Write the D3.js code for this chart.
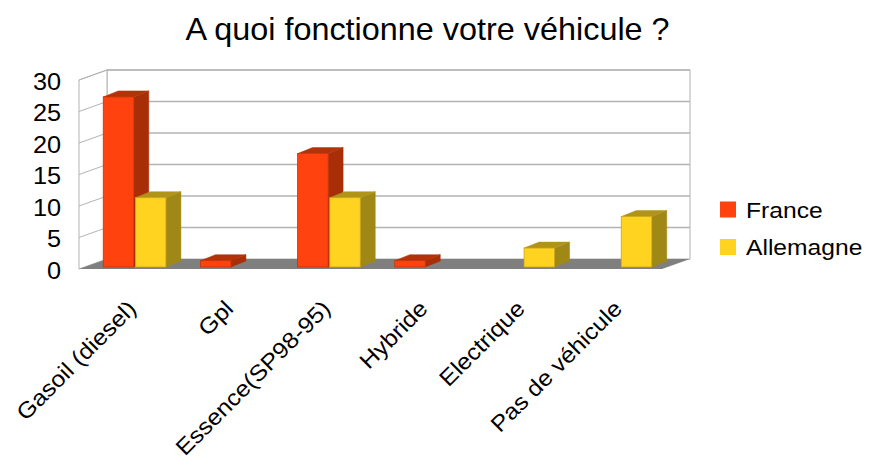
<!DOCTYPE html>
<html>
<head>
<meta charset="utf-8">
<script src="https://cdn.jsdelivr.net/npm/d3@7"></script>
<style>
  body { margin: 0; background: #fff; }
  svg { font-family: "Liberation Sans", Arial, sans-serif; }
</style>
</head>
<body>
<svg id="chart"></svg>
<script>
const categories = ["Gasoil (diesel)", "Gpl", "Essence(SP98-95)", "Hybride", "Electrique", "Pas de véhicule"];
const seriesNames = ["France", "Allemagne"];
const france = [27, 1, 18, 1, 0, 0];
const allemagne = [11, 0, 11, 0, 3, 8];
const yTicks = [0, 5, 10, 15, 20, 25, 30];

const width = 869;
const height = 465;

// 3d offsets
const wallDx = 28, wallDy = -10;   // depth of the floor / side wall
const barDx = 15, barDy = -6;      // depth of each bar
const barShift = 7;                // bars sit a bit behind the front edge
const stretch = 1.1;               // text in the original is a little wide

const colors = { France: "#ff420e", Allemagne: "#ffd320" };
const sideColors = { France: "#a82e08", Allemagne: "#a08816" };
const topColors = { France: "#b3320a", Allemagne: "#b09418" };
const edgeColors = { France: "#c73208", Allemagne: "#c9a614" };

const svg = d3.select("#chart").attr("width", width).attr("height", height);

const frontLeft = 79, frontRight = 662;

// front plane scale
const yFront = d3.scaleLinear().domain([0, 30]).range([269, 80]);
// bar scale (slightly behind the front)
const yBar = d3.scaleLinear().domain([0, 30]).range([267, 78]);

const x0 = d3.scaleBand()
  .domain(categories)
  .range([frontLeft + barShift, frontRight + barShift])
  .paddingInner(0.355)
  .paddingOuter(0.1775);

const x1 = d3.scaleBand()
  .domain(seriesNames)
  .range([0, x0.bandwidth()])
  .paddingInner(0.05);

// title
svg.append("text")
  .attr("transform", "translate(427.5,40) scale(1.045,1)")
  .attr("text-anchor", "middle")
  .style("font-size", "31px")
  .attr("fill", "#000")
  .text("A quoi fonctionne votre véhicule ?");

const walls = svg.append("g");
const gridColor = "#b3b3b3";

// back wall
walls.append("rect")
  .attr("x", frontLeft + wallDx)
  .attr("y", yFront(30) + wallDy)
  .attr("width", frontRight - frontLeft)
  .attr("height", yFront(0) - yFront(30))
  .attr("fill", "#fff")
  .attr("stroke", gridColor)
  .attr("stroke-width", 1);

// left side wall
walls.append("path")
  .attr("d", d3.line()([
    [frontLeft, yFront(0)], [frontLeft, yFront(30)],
    [frontLeft + wallDx, yFront(30) + wallDy], [frontLeft + wallDx, yFront(0) + wallDy]
  ]) + "Z")
  .attr("fill", "#fff")
  .attr("stroke", gridColor)
  .attr("stroke-width", 1);

// grid lines
yTicks.slice(1).forEach(v => {
  walls.append("line")
    .attr("x1", frontLeft + wallDx).attr("x2", frontRight + wallDx)
    .attr("y1", yFront(v) + wallDy).attr("y2", yFront(v) + wallDy)
    .attr("stroke", gridColor).attr("stroke-width", 1.5);
  walls.append("line")
    .attr("x1", frontLeft).attr("x2", frontLeft + wallDx)
    .attr("y1", yFront(v)).attr("y2", yFront(v) + wallDy)
    .attr("stroke", gridColor).attr("stroke-width", 1);
});

// floor
walls.append("path")
  .attr("d", d3.line()([
    [frontLeft, yFront(0)], [frontRight, yFront(0)],
    [frontRight + wallDx, yFront(0) + wallDy], [frontLeft + wallDx, yFront(0) + wallDy]
  ]) + "Z")
  .attr("fill", "#7f7f7f");

// y axis labels
svg.append("g")
  .selectAll("text")
  .data(yTicks)
  .join("text")
    .attr("transform", d => `translate(61,${yFront(d)}) scale(${stretch},1)`)
    .attr("dy", "0.42em")
    .attr("text-anchor", "end")
    .style("font-size", "23px")
    .text(d => d);

// bars
const rows = [];
categories.forEach((c, i) => {
  rows.push({ cat: c, series: "France", value: france[i] });
  rows.push({ cat: c, series: "Allemagne", value: allemagne[i] });
});

const bars = svg.append("g")
  .selectAll("g")
  .data(rows.filter(d => d.value > 0))
  .join("g");

bars.each(function(d) {
  const g = d3.select(this);
  const xl = x0(d.cat) + x1(d.series);
  const xr = xl + x1.bandwidth();
  const yt = yBar(d.value);
  const yb = yBar(0);
  const line = d3.line();
  // side
  g.append("path")
    .attr("d", line([[xr, yb], [xr, yt], [xr + barDx, yt + barDy], [xr + barDx, yb + barDy]]) + "Z")
    .attr("fill", sideColors[d.series])
    .attr("stroke", sideColors[d.series]).attr("stroke-width", 0.5);
  // top
  g.append("path")
    .attr("d", line([[xl, yt], [xr, yt], [xr + barDx, yt + barDy], [xl + barDx, yt + barDy]]) + "Z")
    .attr("fill", topColors[d.series])
    .attr("stroke", topColors[d.series]).attr("stroke-width", 0.5);
  // front
  g.append("rect")
    .attr("x", xl).attr("y", yt)
    .attr("width", xr - xl).attr("height", yb - yt)
    .attr("fill", colors[d.series])
    .attr("stroke", edgeColors[d.series]).attr("stroke-width", 0.8);
});

// category labels, rotated, ending under each group
svg.append("g")
  .selectAll("text")
  .data(categories)
  .join("text")
    .attr("text-anchor", "end")
    .attr("transform", d => `translate(${x0(d) + x0.bandwidth() / 2 + 3},310) rotate(-45) scale(${stretch},1)`)
    .style("font-size", "22.5px")
    .text(d => d);

// legend
const legend = svg.append("g")
  .selectAll("g")
  .data(seriesNames)
  .join("g")
    .attr("transform", (d, i) => `translate(720,${201.5 + i * 37.5})`);

legend.append("rect")
  .attr("width", 16).attr("height", 16)
  .attr("fill", d => colors[d]);

legend.append("text")
  .attr("transform", "translate(26,16) scale(1.12,1)")
  .style("font-size", "22px")
  .text(d => d);
</script>
</body>
</html>
